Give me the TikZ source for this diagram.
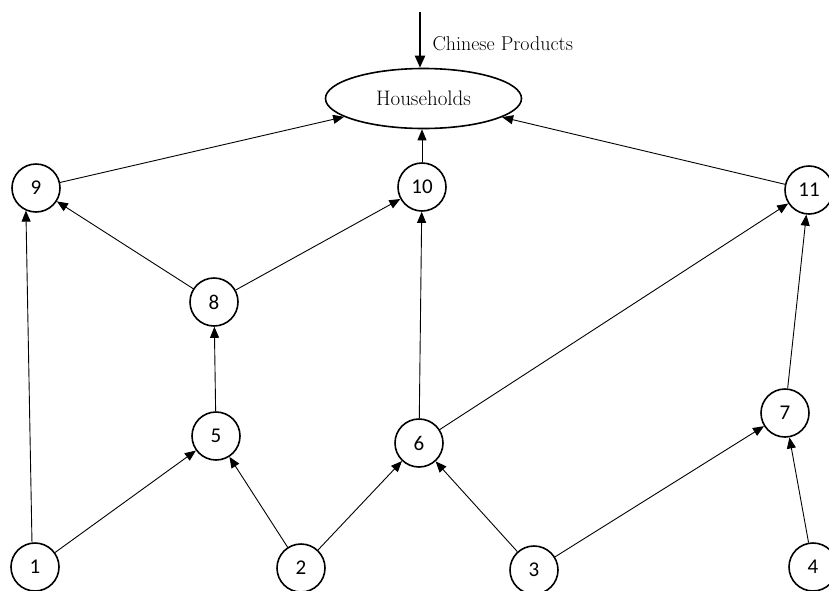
\documentclass[tikz,border=0pt]{standalone}
\usepackage{fontspec}
\newfontfamily\numfont{Carlito}
\usetikzlibrary{arrows.meta,shapes.geometric}
\begin{document}
\begin{tikzpicture}[x=1pt,y=-1pt,
  num/.style={circle,draw,line width=1.6pt,minimum size=48pt,inner sep=0pt,font=\numfont\fontsize{21}{24}\selectfont},
  edge/.style={line width=0.9pt,-{Triangle[length=11pt,width=9pt]}},
  bigarrow/.style={line width=2.2pt,-{Triangle[length=12pt,width=10pt]}}]
\useasboundingbox (0,0) rectangle (829,590);
\clip (0,0) rectangle (829,590);
\node[ellipse,draw,line width=1.6pt,minimum width=196pt,minimum height=60pt,inner sep=0pt,
  font=\fontsize{21}{24}\selectfont] (H) at (423.5,98.5) {Households};
\coordinate (top) at (420,12);
\draw[bigarrow] (top) -- (H.north -| top);
\node[anchor=west,font=\fontsize{20}{23}\selectfont] (cp) at (429,44) {Chinese Products};
\node[num] (n9) at (36,188) {9};
\node[num] (n10) at (422,187) {10};
\node[num] (n11) at (809,190) {11};
\node[num] (n8) at (214,302) {8};
\node[num] (n5) at (216,436) {5};
\node[num] (n6) at (419,443) {6};
\node[num] (n7) at (785,413) {7};
\node[num] (n1) at (35,567) {1};
\node[num] (n2) at (301,568) {2};
\node[num] (n3) at (534,570) {3};
\node[num] (n4) at (813,567) {4};
\draw[edge] (n9) -- (H);
\draw[edge] (n10) -- (H.south -| n10);
\draw[edge] (n11) -- (H);
\draw[edge] (n8) -- (n9);
\draw[edge] (n8) -- (n10);
\draw[edge] (n5) -- (n8);
\draw[edge] (n6) -- (n10);
\draw[edge] (n6) -- (n11);
\draw[edge] (n1.97) -- (n9.246);
\draw[edge] (n1) -- (n5);
\draw[edge] (n2) -- (n5);
\draw[edge] (n2) -- (n6);
\draw[edge] (n3) -- (n6);
\draw[edge] (n3) -- (n7);
\draw[edge] (n4) -- (n7);
\draw[edge] (n7) -- (n11);
\end{tikzpicture}
\end{document}
